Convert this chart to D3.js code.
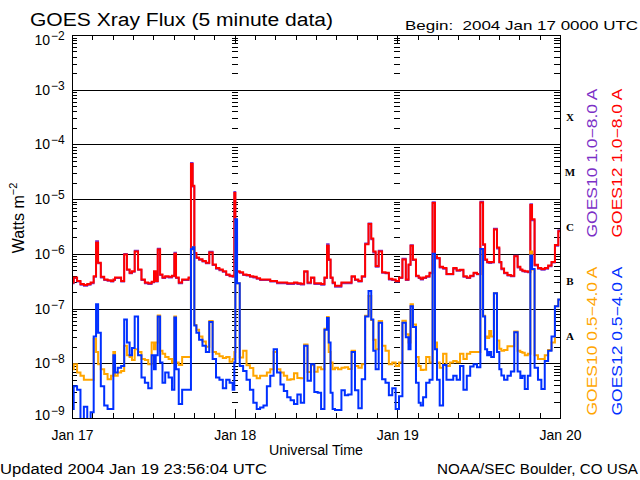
<!DOCTYPE html>
<html>
<head>
<meta charset="utf-8">
<script src="https://cdnjs.cloudflare.com/ajax/libs/d3/7.8.5/d3.min.js"></script>
<style>
  body { margin: 0; background: #fff; }
  svg text { font-family: "Liberation Sans", Arial, sans-serif; fill: #000; }
</style>
</head>
<body>
<div id="chart"></div>
<script>
// hours since 2004 Jan 17 00:00 UTC
const hours = [
  0, 0.5, 1, 1.5, 2, 2.5, 3, 3.4, 3.7, 4, 4.5, 5, 5.5, 6, 6.2, 6.5, 7, 7.5, 7.9, 8.3, 8.7, 9, 9.5, 10, 10.5, 11, 11.5,
  12, 12.2, 12.5, 12.8, 13.2, 13.5, 14, 14.5, 15, 15.2, 15.5, 16, 16.5, 17, 17.4, 17.7, 17.9, 18.2, 18.5, 19, 19.5, 20, 20.5, 21, 21.5, 22, 22.5, 23, 23.5, 23.9,
  24, 24.2, 24.5, 25, 25.5, 26, 26.5, 27, 27.5, 28, 28.5, 29, 29.5, 30, 30.5, 31, 31.5, 32, 32.5, 33, 33.5, 34, 34.5, 35, 35.5,
  36, 36.5, 37, 37.5, 37.75, 38, 38.3, 38.6, 39, 39.5, 40, 40.5, 41, 41.5, 42, 42.5, 43, 43.5, 44, 44.3, 44.6, 45, 45.5, 46, 46.5, 47, 47.5,
  48, 48.5, 49, 49.5, 49.8, 50.1, 50.5, 51, 51.3, 51.6, 52, 52.5, 53, 53.4, 53.7, 54, 54.5, 55, 55.5, 56, 56.5, 57, 57.5, 58, 58.5, 59,
  59.5, 60, 60.5, 60.8, 61.1, 61.4, 61.7, 62, 62.5, 62.9, 63.2, 63.5, 64, 64.5, 65, 65.5, 66, 66.3, 66.6, 67, 67.5, 67.75, 68, 68.5, 69, 69.5, 70, 70.5, 71, 71.5, 72
];

// GOES12 1.0-8.0 A (W m-2)
const goes12Long = [
  3.0e-7, 3.7e-7, 3.2e-7, 2.8e-7, 2.7e-7, 2.8e-7, 3.0e-7, 3.9e-7, 1.6e-6, 6.9e-7, 3.8e-7, 3.4e-7, 3.3e-7, 3.2e-7, 3.4e-7, 3.7e-7, 3.7e-7, 3.2e-7, 9.7e-7, 5.2e-7, 4.5e-7, 4.8e-7, 1.1e-6, 5.2e-7, 3.4e-7, 3.0e-7, 2.9e-7,
  3.1e-7, 4.8e-7, 3.2e-7, 1.2e-6, 4.2e-7, 3.7e-7, 3.9e-7, 3.8e-7, 4.0e-7, 1.0e-6, 3.7e-7, 3.0e-7, 3.4e-7, 3.4e-7, 3.7e-7, 4.4e-5, 1.75e-5, 1.04e-6, 8.6e-7, 8.0e-7, 7.4e-7, 6.9e-7, 1.06e-6, 6.4e-7, 5.5e-7, 5.2e-7, 4.8e-7, 4.2e-7, 4.0e-7, 3.9e-7,
  1.3e-5, 2.1e-6, 4.8e-7, 4.6e-7, 4.2e-7, 4.1e-7, 3.9e-7, 3.8e-7, 3.6e-7, 3.4e-7, 3.4e-7, 3.4e-7, 3.2e-7, 3.2e-7, 3.0e-7, 3.0e-7, 3.0e-7, 2.9e-7, 2.9e-7, 3.0e-7, 2.9e-7, 2.85e-7, 4.8e-7, 3.0e-7, 3.7e-7,
  2.9e-7, 2.9e-7, 2.8e-7, 3.7e-7, 1.4e-6, 7.9e-7, 3.7e-7, 3.0e-7, 2.6e-7, 2.6e-7, 3.0e-7, 3.0e-7, 3.0e-7, 3.9e-7, 3.4e-7, 3.2e-7, 3.9e-7, 1.5e-6, 3.5e-6, 1.9e-6, 1.1e-6, 6.0e-7, 1.1e-6, 4.6e-7, 4.5e-7, 3.5e-7, 3.4e-7,
  3.2e-7, 3.7e-7, 7.9e-7, 3.4e-7, 6.4e-7, 1.4e-6, 7.9e-7, 4.0e-7, 3.7e-7, 3.5e-7, 3.7e-7, 3.9e-7, 4.5e-7, 8.5e-6, 9.0e-7, 8.4e-7, 5.8e-7, 5.5e-7, 4.3e-7, 4.3e-7, 5.5e-7, 5.0e-7, 5.1e-7, 3.9e-7, 3.7e-7, 4.0e-7,
  4.5e-7, 4.3e-7, 8.7e-6, 1.5e-6, 7.9e-7, 7.1e-7, 7.0e-7, 7.1e-7, 2.8e-6, 1.3e-6, 7.1e-7, 5.4e-7, 4.5e-7, 4.1e-7, 4.0e-7, 9.0e-7, 5.8e-7, 5.2e-7, 4.9e-7, 4.8e-7, 4.7e-7, 7.8e-6, 4.3e-6, 6.3e-7, 5.5e-7, 5.3e-7, 5.5e-7, 6.1e-7, 7.1e-7, 1.45e-6, 2.6e-6
];

// GOES10 1.0-8.0 A (mostly hidden under GOES12)
const goes10Long = [
  2.9e-7, 3.6e-7, 3.1e-7, 2.7e-7, 2.6e-7, 2.7e-7, 2.9e-7, 3.8e-7, 1.7e-6, 6.7e-7, 3.7e-7, 3.3e-7, 3.2e-7, 3.1e-7, 3.3e-7, 3.6e-7, 3.6e-7, 3.1e-7, 1.0e-6, 5.1e-7, 4.4e-7, 4.7e-7, 1.15e-6, 5.1e-7, 3.3e-7, 2.9e-7, 2.8e-7,
  3.0e-7, 4.7e-7, 3.1e-7, 1.25e-6, 4.1e-7, 3.6e-7, 3.8e-7, 3.7e-7, 3.9e-7, 1.05e-6, 3.6e-7, 2.9e-7, 3.3e-7, 3.3e-7, 3.6e-7, 4.6e-5, 1.7e-5, 1.0e-6, 8.4e-7, 7.8e-7, 7.2e-7, 6.7e-7, 1.1e-6, 6.2e-7, 5.3e-7, 5.0e-7, 4.7e-7, 4.1e-7, 3.9e-7, 3.8e-7,
  1.35e-5, 2.0e-6, 4.7e-7, 4.5e-7, 4.1e-7, 4.0e-7, 3.8e-7, 3.7e-7, 3.5e-7, 3.3e-7, 3.3e-7, 3.3e-7, 3.1e-7, 3.1e-7, 2.9e-7, 2.9e-7, 2.9e-7, 2.8e-7, 2.8e-7, 2.9e-7, 2.8e-7, 2.75e-7, 4.7e-7, 2.9e-7, 3.6e-7,
  2.8e-7, 2.8e-7, 2.7e-7, 3.6e-7, 1.5e-6, 7.7e-7, 3.6e-7, 2.9e-7, 2.5e-7, 2.5e-7, 2.9e-7, 2.9e-7, 2.9e-7, 3.8e-7, 3.3e-7, 3.1e-7, 3.8e-7, 1.55e-6, 3.6e-6, 1.85e-6, 1.05e-6, 5.8e-7, 1.15e-6, 4.5e-7, 4.4e-7, 3.4e-7, 3.3e-7,
  3.1e-7, 3.6e-7, 8.2e-7, 3.3e-7, 6.2e-7, 1.45e-6, 7.7e-7, 3.9e-7, 3.6e-7, 3.4e-7, 3.6e-7, 3.8e-7, 4.4e-7, 8.8e-6, 8.8e-7, 8.2e-7, 5.6e-7, 5.3e-7, 4.2e-7, 4.2e-7, 5.3e-7, 4.9e-7, 5.0e-7, 3.8e-7, 3.6e-7, 3.9e-7,
  4.4e-7, 4.2e-7, 9.0e-6, 1.45e-6, 7.7e-7, 6.9e-7, 6.8e-7, 6.9e-7, 2.9e-6, 1.25e-6, 6.9e-7, 5.2e-7, 4.4e-7, 4.0e-7, 3.9e-7, 9.3e-7, 5.6e-7, 5.1e-7, 4.8e-7, 4.7e-7, 4.6e-7, 8.1e-6, 4.1e-6, 6.1e-7, 5.3e-7, 5.1e-7, 5.3e-7, 5.9e-7, 6.9e-7, 1.4e-6, 2.7e-6
];

// GOES10 0.5-4.0 A
const goes10Short = [
  7.8e-9, 9.6e-9, 6.8e-9, 5.9e-9, 5.0e-9, 5.0e-9, 5.0e-9, 2.8e-8, 1.6e-8, 9.6e-9, 7.8e-9, 6.4e-9, 5.1e-9, 5.9e-9, 1.6e-8, 5.9e-9, 6.8e-9, 7.2e-9, 2.1e-8, 1.4e-8, 1.3e-8, 1.15e-8, 1.8e-8, 1.6e-8, 1.2e-8, 1.15e-8, 9.6e-9,
  2.4e-8, 1.8e-8, 2.4e-8, 7.5e-8, 1.7e-8, 1.5e-8, 1.3e-8, 1.2e-8, 1.03e-8, 7.2e-8, 1.03e-8, 9.3e-9, 1.3e-8, 1.3e-8, 1.3e-8, 1.2e-6, 1.3e-6, 5.0e-8, 4.1e-8, 3.1e-8, 2.5e-8, 2.0e-8, 5.9e-8, 1.6e-8, 1.5e-8, 1.35e-8, 1.25e-8, 1.3e-8, 1.07e-8, 1.2e-8,
  1.6e-8, 4.0e-6, 2.9e-7, 1.27e-8, 1.7e-8, 9.2e-9, 8.2e-9, 5.9e-9, 5.3e-9, 5.9e-9, 5.9e-9, 6.8e-9, 7.8e-9, 1.6e-8, 7.8e-9, 6.8e-9, 5.9e-9, 5.0e-9, 5.1e-9, 6.6e-9, 5.4e-9, 5.3e-9, 2.2e-8, 6.9e-9, 9.2e-9,
  7.0e-9, 8.5e-9, 7.8e-9, 4.3e-8, 7.0e-8, 1.6e-8, 1.03e-8, 7.8e-9, 8.3e-9, 7.8e-9, 8.3e-9, 8.5e-9, 7.9e-9, 1.7e-8, 8.9e-9, 8.3e-9, 9.6e-9, 7.4e-8, 1.7e-7, 6.2e-8, 2.7e-8, 1.8e-8, 5.9e-8, 2.1e-8, 1.7e-8, 9.6e-9, 1.03e-8,
  8.9e-9, 1.03e-8, 6.0e-8, 3.4e-8, 2.4e-8, 1.2e-7, 5.1e-8, 1.3e-8, 8.9e-9, 7.5e-9, 7.6e-9, 1.3e-8, 1.03e-8, 9.5e-7, 2.4e-8, 1.03e-8, 8.3e-9, 1.5e-8, 8.9e-9, 1.03e-8, 1.1e-8, 1.05e-8, 1.5e-8, 1.2e-8, 1.5e-8, 1.6e-8,
  1.6e-8, 1.6e-8, 1.2e-6, 7.4e-8, 3.1e-8, 2.9e-8, 3.9e-8, 3.1e-8, 1.9e-7, 2.6e-8, 1.85e-8, 1.7e-8, 1.75e-8, 2.05e-8, 2.05e-8, 3.8e-8, 1.7e-8, 1.6e-8, 1.55e-8, 1.4e-8, 1.5e-8, 1.1e-6, 5.2e-7, 1.4e-8, 1.2e-8, 1.2e-8, 1.4e-8, 1.75e-8, 2.4e-8, 1.1e-7, 1.45e-7
];

// GOES12 0.5-4.0 A
const goes12Short = [
  1.46e-9, 3.8e-9, 3.3e-9, 9e-10, 1.6e-9, 9e-10, 1.27e-9, 3.1e-8, 1.2e-7, 3.6e-8, 3.8e-9, 1.7e-9, 1.46e-9, 1.46e-9, 1.4e-8, 6.8e-9, 8.3e-9, 8.9e-9, 6.3e-8, 2.4e-8, 1.4e-8, 1.9e-8, 7.2e-8, 1.4e-8, 5.5e-9, 4.4e-9, 3.5e-9,
  1.4e-8, 7.8e-9, 1.4e-8, 7.2e-8, 1.03e-8, 4.4e-9, 6.8e-9, 5.5e-9, 3.3e-9, 6.9e-8, 7.8e-9, 1.8e-9, 3.3e-9, 3.3e-9, 3.3e-9, 1.23e-6, 1.32e-6, 4.9e-8, 3.6e-8, 2.7e-8, 2.1e-8, 1.6e-8, 5.7e-8, 1.2e-8, 5.5e-9, 5.0e-9, 3.5e-9, 5.0e-9, 4.4e-9, 3.3e-9,
  1.03e-8, 4.3e-6, 2.9e-7, 8.9e-9, 7.2e-9, 5.0e-9, 3.3e-9, 1.9e-9, 1.46e-9, 1.56e-9, 1.7e-9, 3.8e-9, 5.9e-9, 1.8e-8, 6.8e-9, 4.1e-9, 3.1e-9, 2.4e-9, 2.1e-9, 1.8e-9, 2.7e-9, 1.9e-9, 2.1e-8, 4.8e-9, 9.6e-9,
  3.0e-9, 2.9e-9, 1.46e-9, 4.1e-8, 6.7e-8, 2.4e-8, 2.9e-9, 1.46e-9, 1.4e-9, 1.4e-9, 3.2e-9, 2.6e-9, 2.7e-9, 1.6e-8, 3.2e-9, 1.5e-9, 5.1e-9, 7.2e-8, 2.1e-7, 6.3e-8, 1.7e-8, 7.8e-9, 5.5e-8, 5.1e-9, 4.4e-9, 2.6e-9, 3.5e-9,
  1.46e-9, 2.5e-9, 5.5e-8, 3.0e-8, 1.8e-8, 1.1e-7, 4.6e-8, 4.4e-9, 1.9e-9, 1.7e-9, 2.4e-9, 4.4e-9, 5.0e-9, 1.0e-6, 1.8e-8, 5.0e-9, 1.7e-9, 9.3e-9, 5.0e-9, 5.0e-9, 5.9e-9, 5.0e-9, 8.9e-9, 3.3e-9, 5.9e-9, 8.7e-9,
  9.6e-9, 8.5e-9, 1.23e-6, 7.2e-8, 1.8e-8, 1.4e-8, 1.6e-8, 1.3e-8, 1.9e-7, 1.6e-8, 7.8e-9, 6.0e-9, 5.0e-9, 5.9e-9, 7.1e-9, 3.7e-8, 7.1e-9, 5.4e-9, 5.9e-9, 3.4e-9, 5.9e-9, 9.3e-7, 5.3e-7, 8.3e-9, 5.0e-9, 3.4e-9, 1.1e-8, 1.7e-8, 3.1e-8, 1.1e-7, 1.46e-7
];

const decadeExponents = [-2, -3, -4, -5, -6, -7, -8, -9];
const dayHours = [0, 24, 48, 72];
const dayLabels = ["Jan 17", "Jan 18", "Jan 19", "Jan 20"];
const flareClasses = ["X", "M", "C", "B", "A"];
const flareClassFloor = [1e-4, 1e-5, 1e-6, 1e-7, 1e-8];
const legendLabels = ["GOES10 1.0\u22128.0 A", "GOES12 1.0\u22128.0 A", "GOES10 0.5\u22124.0 A", "GOES12 0.5\u22124.0 A"];

const width = 640, height = 480;
const margin = {top: 35, right: 80, bottom: 62, left: 72};

const svg = d3.select("#chart")
  .append("svg")
  .attr("width", width)
  .attr("height", height);

svg.append("rect").attr("width", width).attr("height", height).attr("fill", "#fff");

const x = d3.scaleLinear()
  .domain([0, 72])
  .range([margin.left, width - margin.right]);

const y = d3.scaleLog()
  .domain([1e-9, 1e-2])
  .range([height - margin.bottom, margin.top]);

const plotW = width - margin.right - margin.left;

// log minor ticks (2..9 in every decade)
const minorTicks = [];
decadeExponents.slice(1).forEach(e => {
  for (let m = 2; m <= 9; m++) minorTicks.push(m * Math.pow(10, e));
});

const noDomain = g => g.attr("shape-rendering", "crispEdges").select(".domain").remove();

// horizontal grid at each decade
svg.append("g")
  .attr("transform", `translate(${margin.left},0)`)
  .call(d3.axisLeft(y)
    .tickValues(decadeExponents.slice(1, -1).map(e => Math.pow(10, e)))
    .tickSize(-plotW).tickFormat(""))
  .call(noDomain);

// minor ticks, left and right
svg.append("g")
  .attr("transform", `translate(${margin.left},0)`)
  .call(d3.axisLeft(y).tickValues(minorTicks).tickSize(-5).tickFormat(""))
  .call(noDomain);

svg.append("g")
  .attr("transform", `translate(${width - margin.right},0)`)
  .call(d3.axisRight(y).tickValues(minorTicks).tickSize(-6).tickFormat(""))
  .call(noDomain);

// dotted day boundaries made of short ticks
svg.append("g")
  .attr("shape-rendering", "crispEdges")
  .selectAll("line")
  .data(d3.cross([24, 48], minorTicks))
  .join("line")
    .attr("x1", d => x(d[0]) - 3)
    .attr("x2", d => x(d[0]) + 3)
    .attr("y1", d => Math.round(y(d[1])) + 0.5)
    .attr("y2", d => Math.round(y(d[1])) + 0.5)
    .attr("stroke", "#000");

// 3-hour ticks top and bottom, longer at day boundaries
const threeHours = d3.range(3, 72, 3).filter(h => h % 24 !== 0);
svg.append("g")
  .attr("transform", `translate(0,${height - margin.bottom})`)
  .call(d3.axisBottom(x).tickValues(threeHours).tickSize(-5).tickFormat(""))
  .call(noDomain);
svg.append("g")
  .attr("transform", `translate(0,${margin.top})`)
  .call(d3.axisTop(x).tickValues(threeHours).tickSize(-5).tickFormat(""))
  .call(noDomain);
svg.append("g")
  .attr("transform", `translate(0,${height - margin.bottom})`)
  .call(d3.axisBottom(x).tickValues([24, 48]).tickSize(-9).tickFormat(""))
  .call(noDomain);
svg.append("g")
  .attr("transform", `translate(0,${margin.top})`)
  .call(d3.axisTop(x).tickValues([24, 48]).tickSize(-9).tickFormat(""))
  .call(noDomain);

// day labels
svg.append("g")
  .attr("transform", `translate(0,${height - margin.bottom})`)
  .call(d3.axisBottom(x).tickValues(dayHours).tickSize(0).tickPadding(12)
    .tickFormat((d, i) => dayLabels[i]))
  .call(noDomain)
  .call(g => g.selectAll("text")
    .attr("font-size", 14)
    .attr("font-family", "Liberation Sans, Arial, sans-serif"));

// data
svg.append("clipPath").attr("id", "plot-clip")
  .append("rect")
  .attr("x", margin.left).attr("y", margin.top)
  .attr("width", plotW).attr("height", height - margin.bottom - margin.top);

const line = d3.line()
  .x((d, i) => x(hours[i]))
  .y(d => y(d))
  .curve(d3.curveStep);

const series = [
  {values: goes10Long, color: "#7b2fc6", width: 1.8},
  {values: goes12Long, color: "#ff0000", width: 2},
  {values: goes10Short, color: "#ffa500", width: 2},
  {values: goes12Short, color: "#0030ff", width: 2}
];

svg.append("g")
  .attr("clip-path", "url(#plot-clip)")
  .selectAll("path")
  .data(series)
  .join("path")
    .attr("d", d => line(d.values))
    .attr("fill", "none")
    .attr("stroke", d => d.color)
    .attr("stroke-width", d => d.width)
    .attr("stroke-linejoin", "miter");

// plot frame
svg.append("rect")
  .attr("x", margin.left + 0.5).attr("y", margin.top + 0.5)
  .attr("width", plotW).attr("height", height - margin.bottom - margin.top)
  .attr("fill", "none").attr("stroke", "#000")
  .attr("shape-rendering", "crispEdges");

// y tick labels 10^n
const yLab = svg.append("g");
decadeExponents.forEach(e => {
  const yy = y(Math.pow(10, e)) + (e === -2 ? 10 : (e === -9 ? 2 : 5));
  yLab.append("text")
    .attr("x", 50).attr("y", yy)
    .attr("text-anchor", "end").attr("font-size", 14)
    .text("10");
  yLab.append("text")
    .attr("x", 51).attr("y", yy - 5)
    .attr("font-size", 12)
    .text("\u2212" + (-e));
});

// y axis title
svg.append("text")
  .attr("transform", "translate(24,218) rotate(-90)")
  .attr("text-anchor", "middle")
  .attr("font-size", 16)
  .call(t => {
    t.append("tspan").text("Watts m");
    t.append("tspan").attr("dy", -7).attr("font-size", 11).text("\u22122");
  });

// flare class letters
svg.append("g")
  .selectAll("text")
  .data(flareClasses)
  .join("text")
    .attr("x", 570)
    .attr("y", (d, i) => (y(flareClassFloor[i]) + y(flareClassFloor[i] * 10)) / 2 + 4)
    .attr("text-anchor", "middle")
    .attr("font-size", 11)
    .attr("font-weight", "bold")
    .style("font-family", "Liberation Serif, Times New Roman, serif")
    .text(d => d);

// rotated legend
const legendPos = [
  {x: 597, y: 163, color: "#7b2fc6"},
  {x: 622, y: 163, color: "#ff0000"},
  {x: 597, y: 341, color: "#ffa500"},
  {x: 622, y: 341, color: "#0030ff"}
];
svg.append("g")
  .selectAll("text")
  .data(legendLabels)
  .join("text")
    .attr("transform", (d, i) => `translate(${legendPos[i].x},${legendPos[i].y}) rotate(-90)`)
    .attr("text-anchor", "middle")
    .attr("font-size", 14)
    .attr("textLength", 149)
    .attr("lengthAdjust", "spacingAndGlyphs")
    .style("fill", (d, i) => legendPos[i].color)
    .text(d => d);

// titles and footer
svg.append("text")
  .attr("x", 30).attr("y", 26)
  .attr("font-size", 18)
  .attr("textLength", 303).attr("lengthAdjust", "spacingAndGlyphs")
  .text("GOES Xray Flux (5 minute data)");

svg.append("text")
  .attr("x", 405).attr("y", 30)
  .attr("font-size", 13.5)
  .attr("textLength", 233).attr("lengthAdjust", "spacingAndGlyphs")
  .style("white-space", "pre")
  .text("Begin:  2004 Jan 17 0000 UTC");

svg.append("text")
  .attr("x", 316).attr("y", 455)
  .attr("text-anchor", "middle")
  .attr("font-size", 14)
  .attr("textLength", 94).attr("lengthAdjust", "spacingAndGlyphs")
  .text("Universal Time");

svg.append("text")
  .attr("x", 0).attr("y", 474)
  .attr("font-size", 14)
  .attr("textLength", 267).attr("lengthAdjust", "spacingAndGlyphs")
  .text("Updated 2004 Jan 19 23:56:04 UTC");

svg.append("text")
  .attr("x", 638).attr("y", 474)
  .attr("text-anchor", "end")
  .attr("font-size", 14)
  .attr("textLength", 201).attr("lengthAdjust", "spacingAndGlyphs")
  .text("NOAA/SEC Boulder, CO USA");
</script>
</body>
</html>
